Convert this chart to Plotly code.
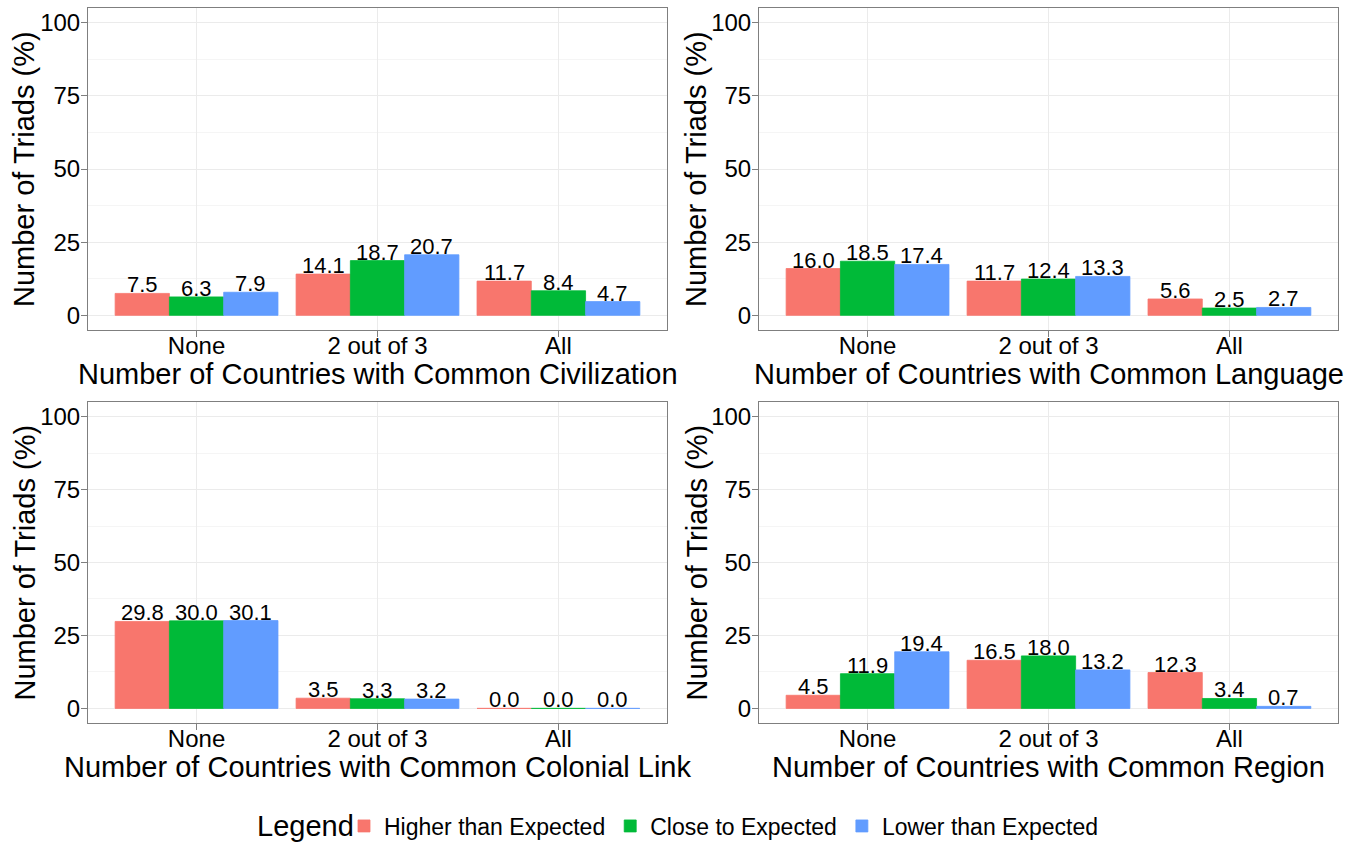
import plotly.graph_objects as go

categories = ["None", "2 out of 3", "All"]
series_names = ["Higher than Expected", "Close to Expected", "Lower than Expected"]
colors = ["#F8766D", "#00BA38", "#619CFF"]

civilization = {
    "Higher than Expected": [7.5, 14.1, 11.7],
    "Close to Expected": [6.3, 18.7, 8.4],
    "Lower than Expected": [7.9, 20.7, 4.7],
}
language = {
    "Higher than Expected": [16.0, 11.7, 5.6],
    "Close to Expected": [18.5, 12.4, 2.5],
    "Lower than Expected": [17.4, 13.3, 2.7],
}
colonial = {
    "Higher than Expected": [29.8, 3.5, 0.0],
    "Close to Expected": [30.0, 3.3, 0.0],
    "Lower than Expected": [30.1, 3.2, 0.0],
}
region = {
    "Higher than Expected": [4.5, 16.5, 12.3],
    "Close to Expected": [11.9, 18.0, 3.4],
    "Lower than Expected": [19.4, 13.2, 0.7],
}

panels = [
    (civilization, "Number of Countries with Common Civilization"),
    (language, "Number of Countries with Common Language"),
    (colonial, "Number of Countries with Common Colonial Link"),
    (region, "Number of Countries with Common Region"),
]
y_title = "Number of Triads (%)"
legend_title = "Legend"

W, H = 1360, 844
FONT = "Liberation Sans, Arial, Helvetica, sans-serif"
x_domains = [(88 / W, 667 / W), (759 / W, 1338 / W)]
y_domains = [(1 - 330 / H, 1 - 8 / H), (1 - 723 / H, 1 - 402 / H)]
x_title_y = [1 - 374 / H, 1 - 767 / H]
y_title_x = [24 / W, 696 / W]

fig = go.Figure()
layout = {}
annotations = []
offsets = [-0.3, 0.0, 0.3]

for p, (data, title) in enumerate(panels):
    row, col = divmod(p, 2)
    idx = "" if p == 0 else str(p + 1)
    xa, ya = "x" + idx, "y" + idx
    for s, name in enumerate(series_names):
        vals = data[name]
        fig.add_trace(go.Bar(
            x=categories, y=vals, name=name,
            marker=dict(color=colors[s], line=dict(color=colors[s], width=0.8)),
            xaxis=xa, yaxis=ya, showlegend=(p == 0), legendgroup=name,
            hoverinfo="x+y",
        ))
        for i, v in enumerate(vals):
            annotations.append(dict(
                x=i + offsets[s], y=v, xref=xa, yref=ya, text=f"{v:.1f}",
                showarrow=False, yanchor="bottom", yshift=-6,
                font=dict(family=FONT, size=22, color="black"),
            ))
    # axis titles
    annotations.append(dict(
        x=sum(x_domains[col]) / 2, y=x_title_y[row], xref="paper", yref="paper",
        text=title, showarrow=False, xanchor="center", yanchor="middle",
        font=dict(family=FONT, size=29, color="black"),
    ))
    annotations.append(dict(
        x=y_title_x[col], y=sum(y_domains[row]) / 2, xref="paper", yref="paper",
        text=y_title, showarrow=False, xanchor="center", yanchor="middle", textangle=-90,
        font=dict(family=FONT, size=29, color="black"),
    ))
    axis_common = dict(
        showline=True, linecolor="#7f7f7f", linewidth=1, mirror=True,
        ticks="outside", ticklen=6, tickcolor="#7f7f7f", tickwidth=1,
        showgrid=True, gridcolor="#ebebeb", gridwidth=1,
        zeroline=False, automargin=False,
        tickfont=dict(family=FONT, size=24, color="black"),
    )
    layout["xaxis" + idx] = dict(
        axis_common, domain=x_domains[col], anchor=ya,
        type="category", range=[-0.6, 2.6], ticklabelstandoff=-12,
    )
    layout["yaxis" + idx] = dict(
        axis_common, domain=y_domains[row], anchor=xa,
        range=[-5, 105], tickvals=[0, 25, 50, 75, 100], ticklabelstandoff=-4,
        minor=dict(tickvals=[12.5, 37.5, 62.5, 87.5], showgrid=True, gridcolor="#f5f5f5", ticks=""),
    )

annotations.append(dict(
    x=255 / W, y=1 - 826 / H, xref="paper", yref="paper", text=legend_title,
    showarrow=False, xanchor="left", yanchor="middle",
    font=dict(family=FONT, size=29, color="black"),
))

fig.update_layout(
    **layout,
    width=W, height=H,
    barmode="group", bargap=0.1, bargroupgap=0,
    plot_bgcolor="white", paper_bgcolor="white",
    margin=dict(l=0, r=0, t=0, b=0, autoexpand=False),
    annotations=annotations,
    legend=dict(
        orientation="h", x=344 / W, xanchor="left", y=1 - 826 / H, yanchor="middle",
        font=dict(family=FONT, size=23, color="black"),
        itemwidth=30, tracegroupgap=0,
    ),
    font=dict(family=FONT, color="black"),
)

fig.write_html(
    "out.html",
    config={"displayModeBar": False},
    post_script="document.body.style.margin='0';document.body.style.overflow='hidden';",
)
